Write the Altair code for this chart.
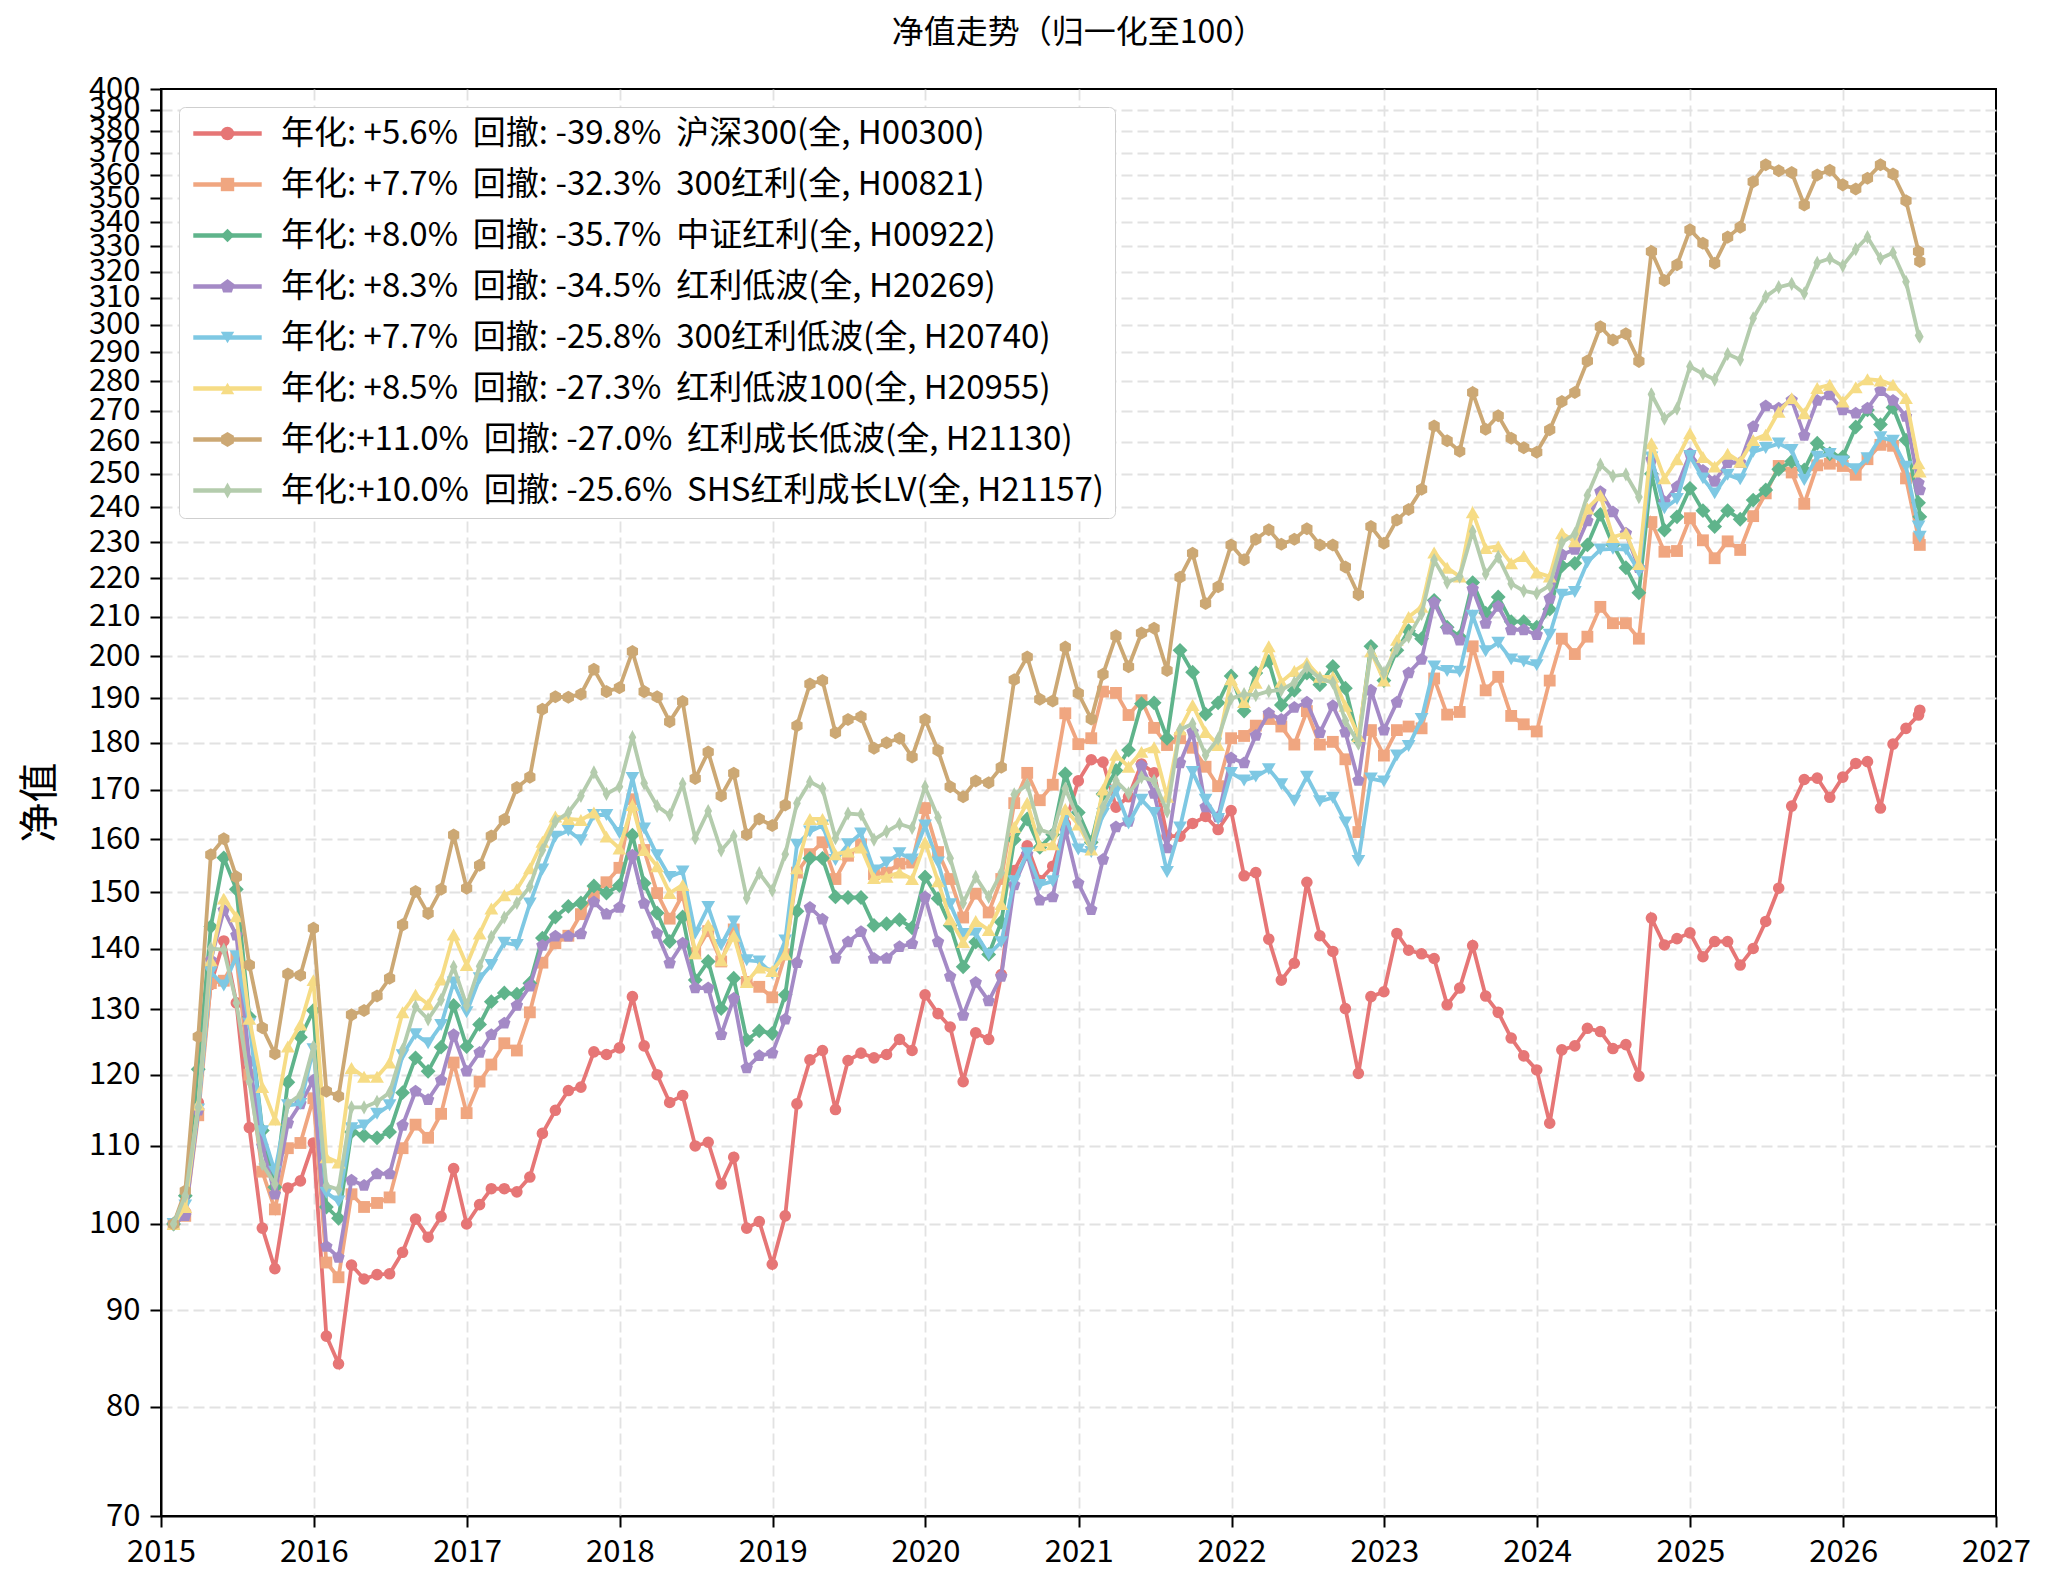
import altair as alt
import pandas as pd

FONT = "Noto Sans CJK SC"
NB = "\u00a0"

# ---------------- data ----------------
dates = [(pd.Timestamp("2015-01-01") + pd.offsets.MonthEnd(k + 1)).strftime("%Y-%m-%d") for k in range(138)]
dates.append("2026-07-03")

names = ["沪深300(全, H00300)", "300红利(全, H00821)", "中证红利(全, H00922)", "红利低波(全, H20269)",
         "300红利低波(全, H20740)", "红利低波100(全, H20955)", "红利成长低波(全, H21130)", "SHS红利成长LV(全, H21157)"]
annual = ["+5.6%", "+7.7%", "+8.0%", "+8.3%", "+7.7%", "+8.5%", "+11.0%", "+10.0%"]
drawdown = ["-39.8%", "-32.3%", "-35.7%", "-34.5%", "-25.8%", "-27.3%", "-27.0%", "-25.6%"]
colors = ["#e67676", "#f0a680", "#5fb48b", "#a48ac6", "#7ec8e3", "#f6dc85", "#cca874", "#b4ccad"]

h00300 = [100, 101.5, 116, 134, 141.3, 131, 112.5, 99.5, 94.7, 104.5, 105.4, 110.4,
          87.2, 84.3, 95.1, 93.5, 94, 94.1, 96.6, 100.6, 98.4, 100.9, 107, 100,
          102.4, 104.4, 104.4, 104, 105.9, 111.7, 114.9, 117.7, 118.2, 123.4, 123, 124,
          132, 124.3, 120, 116, 117, 110, 110.5, 105, 108.5, 99.5, 100.3, 95.2,
          101, 115.8, 122.2, 123.6, 115, 122.1, 123.2, 122.5, 123, 125.3, 123.6, 132.3,
          129.3, 127.2, 119, 126.3, 125.3, 135.6, 154, 158.7, 152.1, 154.8, 163, 171.8,
          176.3, 175.8, 166.4, 168.5, 175.4, 173.5, 160.6, 160.6, 163.1, 164.5, 161.9, 165.7,
          153, 153.6, 141.6, 134.7, 137.5, 151.8, 142.2, 139.5, 130.1, 120.2, 132, 132.8,
          142.6, 139.7, 139.1, 138.3, 130.7, 133.4, 140.5, 132.1, 129.5, 125.5, 122.8, 120.7,
          113.1, 123.7, 124.3, 127, 126.5, 123.9, 124.5, 119.8, 145.3, 140.6, 141.7, 142.7,
          138.6, 141.2, 141.2, 137.2, 140, 144.7, 150.7, 166.6, 172.1, 172.4, 168.4, 172.6,
          175.5, 175.9, 166.2, 179.7, 183.2, 186.2, 187.3]
h00821 = [100, 101, 114.2, 134.2, 134.6, 138.5, 120, 106.6, 101.8, 109.7, 110.4, 116.6,
          95.4, 93.7, 103.7, 102.1, 102.6, 103.3, 109.7, 112.9, 111.1, 114.4, 121.8, 114.5,
          119, 121.5, 124.7, 123.6, 129.5, 137.6, 140.9, 142.2, 146, 149.7, 151.8, 154.5,
          168, 157.9, 149.8, 145.2, 149.5, 139.2, 143, 137.8, 143.3, 134.4, 133.6, 131.9,
          139, 153.6, 157.1, 159.4, 152.4, 156.8, 159, 153.3, 153.6, 155.3, 155.5, 166.2,
          157.5, 152.4, 145.4, 149.7, 146.3, 152.4, 167.2, 173.5, 167.8, 171, 186.6, 179.7,
          181, 191.6, 191.3, 186.2, 189.6, 183.3, 179.5, 181, 178.9, 174.8, 170.7, 181,
          181.5, 183.8, 185.3, 183.6, 179.6, 187.1, 179.6, 180.2, 176.4, 161.4, 182.8, 177.2,
          182.8, 183.6, 183.2, 194.7, 186.3, 186.9, 202.5, 191.9, 195.1, 186, 184.1, 182.5,
          194.2, 204.4, 200.6, 204.9, 212.5, 208.3, 208.3, 204.4, 235.7, 227.3, 227.5, 236.8,
          230.5, 225.5, 230.2, 227.8, 237.4, 244.1, 252.4, 250.4, 241, 252.6, 253.1, 252.4,
          249.7, 254.5, 259, 258.7, 248.6, 231.1, 229.2]
h00922 = [100, 103.5, 120.8, 143.8, 156.4, 150.5, 128.8, 112.1, 104.6, 118.9, 125.6, 129.8,
          102.1, 100.7, 111.9, 111.4, 111.1, 111.9, 117.4, 122.5, 120.5, 124.1, 130.6, 124.2,
          127.6, 131.2, 132.6, 132.4, 134.2, 141.8, 145.5, 147.4, 148, 151.1, 149.8, 151.2,
          160.8, 151.6, 146.2, 141.2, 145.5, 134.7, 137.8, 130.1, 135, 125.2, 126.6, 126.2,
          132.3, 146.5, 156.3, 156.3, 149.1, 149, 149, 144, 144.3, 145, 143.6, 152.8,
          148.8, 144, 136.9, 141.1, 139, 144.6, 159.9, 164, 158.4, 160.9, 173.3, 165.3,
          159.4, 169.1, 174, 178.4, 188.8, 189, 181, 201.5, 196.2, 186.4, 189, 195.3,
          187.1, 196, 198.8, 188.5, 191.9, 196, 193.2, 197.6, 192.4, 180.6, 202.5, 194.2,
          201.5, 206.4, 204.4, 214.2, 207.3, 204.9, 218.9, 210.9, 215.1, 208.7, 208.7, 207.3,
          211.9, 223.4, 224.1, 229.2, 237.9, 229.2, 222.9, 216.2, 250, 233.4, 237.2, 245.6,
          239, 234.4, 239, 236.5, 242.1, 245.1, 251.4, 253.8, 251.2, 259.5, 256.2, 255.2,
          264.7, 270.3, 265.5, 271.1, 260.5, 241.3, 237.2]
h20269 = [100, 101, 114.9, 138, 146.7, 142.3, 122, 110, 103.7, 113.1, 115.8, 119.2,
          97.3, 96, 105.5, 104.8, 106.3, 106.3, 112.8, 117.6, 116.4, 119.2, 126, 120.5,
          123.3, 126, 127.8, 130.6, 133.7, 140.5, 142.1, 142.1, 142.5, 148.2, 146, 147.2,
          156.9, 147.9, 142.6, 137.5, 140.9, 133.4, 133.4, 126, 131.7, 121, 122.8, 123.2,
          128.4, 137.6, 147.2, 145.1, 138.3, 141.1, 142.9, 138.3, 138.3, 140.3, 140.8, 149.1,
          141.1, 135.3, 129, 134.3, 131.3, 135.3, 151.3, 157.1, 148.5, 149.1, 161.9, 151.6,
          146.8, 156.1, 162.4, 163.5, 175, 169.2, 158.3, 175.6, 182.4, 166.4, 164.4, 176.7,
          175.6, 181.6, 186.6, 185.2, 187.9, 189.1, 182.2, 188.3, 182.3, 171.9, 191.9, 182.8,
          189.1, 196, 199.3, 213.6, 206.8, 204, 217.2, 208.2, 212.6, 206.6, 206.6, 205.4,
          214.7, 226.5, 227.9, 236, 244.6, 238.6, 232.5, 222.9, 254.3, 241.6, 246.1, 256.2,
          251, 247.7, 253.4, 253.4, 264.8, 271.6, 270.8, 273.6, 262, 273.4, 275.3, 270.3,
          269.2, 270.8, 276.7, 273.4, 268.1, 247.2, 245.1]
h20740 = [100, 102.3, 115, 136, 133.8, 138.7, 127.7, 112, 106.6, 115.6, 115.8, 123.8,
          103.9, 102.8, 112.4, 112.8, 114.4, 115.6, 122.9, 126.1, 124.7, 127.5, 134.3, 129.5,
          135, 137.2, 141, 140.6, 147.9, 154.2, 160.5, 161.7, 159.8, 164.8, 164.8, 161.2,
          172.4, 162.1, 156.9, 152.8, 153.8, 142.6, 147.3, 140.6, 144.7, 138, 137.8, 135.8,
          141.4, 158.9, 161.5, 162.7, 156, 159, 161.1, 154, 155.5, 157.3, 156.1, 162.7,
          155.5, 147.8, 142.5, 142.6, 139, 141.1, 152, 157.3, 151.3, 152, 164.3, 158,
          157.5, 165, 169.7, 163.1, 167.9, 165.2, 153.7, 162.3, 173.7, 167.9, 164, 173.5,
          171.9, 172.7, 174.3, 171.1, 167.7, 172.7, 167.6, 168.3, 163.3, 155.8, 172.3, 171.7,
          177.2, 179.3, 185.3, 197.6, 196.5, 196.3, 210.2, 201.3, 203.4, 199.3, 198.8, 197.9,
          205.4, 215.7, 216.4, 224.4, 227.9, 228.1, 227.9, 221.9, 255, 239.7, 242.4, 255.5,
          248.6, 244.1, 249.7, 248.3, 256.8, 258, 259.4, 257.4, 248.1, 255.3, 256.1, 253.8,
          251.4, 254.8, 261.4, 260.3, 252.2, 234.4, 231.5]
h20955 = [100, 102.1, 115.7, 138, 148.8, 145.6, 128.5, 118.2, 113.6, 124.2, 127.6, 134.7,
          108.5, 107.8, 121, 119.7, 119.7, 121.8, 129.5, 132.3, 130.8, 134.8, 142.4, 137.2,
          142.6, 147, 149.4, 150.5, 154.4, 159.5, 164.5, 164, 163.8, 165.3, 160.5, 158.2,
          166.8, 157.9, 154.8, 149.8, 151.3, 139.2, 144.1, 138, 142.2, 134.4, 136.8, 136.2,
          139, 154.4, 164, 164, 157.1, 157.6, 158.4, 152.6, 152.8, 153.6, 152.4, 159.4,
          152, 145.1, 141.1, 144.8, 143.2, 147.8, 162.4, 167.3, 158.8, 159, 166, 162.9,
          158, 170, 177.4, 174.8, 178, 179, 168.5, 183, 188.5, 182.4, 179.5, 194.5,
          189.2, 193.7, 202.5, 193.9, 196.5, 198.5, 195.1, 195.1, 188.3, 181.5, 201.3, 194.2,
          204.1, 209.9, 212.5, 227.1, 222.9, 220.5, 238.5, 228.3, 228.8, 224.1, 226.1, 221.6,
          220.5, 232.5, 230.2, 239.6, 243.5, 231.4, 232.5, 223.9, 259.5, 248.6, 254.5, 262.7,
          255.2, 252.2, 256.2, 253.7, 260.5, 262.2, 269.7, 274.2, 269.2, 277.6, 278.7, 273.1,
          277.9, 280.6, 280.2, 278.7, 274.2, 253.2, 250.7]
h21130 = [100, 104.1, 125.7, 157, 160.1, 152.8, 137.2, 127.1, 123.1, 135.7, 135.5, 143.5,
          117.6, 116.9, 129.1, 129.8, 132.1, 135, 144.1, 150.1, 146.1, 150.5, 160.8, 150.7,
          155, 160.6, 163.9, 170.4, 172.6, 187.5, 190.4, 190.3, 191, 196.9, 191.6, 192.5,
          201.2, 191.6, 190.4, 184.7, 189.3, 172.3, 178, 168.7, 173.4, 160.9, 164, 162.7,
          166.8, 183.8, 193.4, 194.2, 182.2, 185.2, 185.8, 178.8, 180, 181, 176.9, 185.2,
          178.3, 170.6, 168.5, 171.8, 171.4, 174.7, 194.4, 199.9, 189.8, 189.4, 202.3, 191.2,
          185.3, 195.7, 205.1, 197.5, 205.8, 207, 196.6, 220.3, 226.9, 213.4, 217.8, 229.2,
          225.1, 230.8, 233.5, 229.4, 230.8, 233.8, 229.2, 229.2, 223.1, 215.7, 234.4, 229.7,
          236.3, 239.3, 245.3, 265, 260.3, 257, 276.1, 264, 268.4, 261.1, 258.1, 256.7,
          263.8, 273.1, 276.1, 286.9, 299.2, 294.4, 296.6, 286.8, 328, 316.6, 322.7, 336.8,
          331.3, 323.3, 333.8, 337.9, 357.2, 364.6, 362, 361.2, 347.2, 360.1, 362.2, 355.8,
          354, 358.7, 364.6, 360.6, 349, 328, 324]
h21157 = [100, 103.5, 115.3, 140, 139.8, 131, 119, 107.6, 105, 115.8, 117.1, 124.2,
          104.8, 104.3, 115.3, 115.3, 116.1, 117.4, 123.7, 130.4, 128.4, 131.5, 136.9, 130.6,
          137, 142, 145.4, 148, 151, 157.9, 163.5, 165.3, 168.7, 173.6, 169.1, 170.6,
          181.2, 171.3, 166.6, 164.8, 171.2, 160.2, 165.6, 157.8, 160.6, 148.9, 153.5, 150.3,
          157.1, 167.2, 171.6, 170.2, 160.2, 165.1, 164.9, 159.9, 161.5, 163, 162.2, 170.6,
          164.3, 156.3, 148, 152.8, 149.1, 153.6, 169, 171, 161.9, 161, 170.2, 164,
          158.3, 166.4, 171.8, 169.2, 172.6, 171.8, 165.5, 182.9, 184.2, 177.3, 180.9, 190,
          191, 190.8, 191.7, 192, 193.7, 197.4, 194.7, 193.7, 184.9, 179.8, 201.1, 196,
          202, 204.9, 210.7, 225, 218.9, 220.5, 233, 221.2, 225.9, 218.6, 216.7, 216,
          218.1, 229.8, 232.3, 243.5, 252.8, 249.3, 249.8, 243, 275.5, 267.4, 270.7, 285,
          282.5, 280.5, 289.4, 287.4, 302.3, 310.4, 314, 315.3, 311.6, 323.5, 325.2, 322.3,
          328.9, 333.8, 325.2, 327.5, 316.1, 296, 295.6]
series_values = [h00300, h00821, h00922, h20269, h20740, h20955, h21130, h21157]

y_ticks = list(range(70, 401, 10))
x_ticks = [f"{y}-01-01" for y in range(2015, 2028)]

# ---------------- build table ----------------
labels = []
for a, d, n in zip(annual, drawdown, names):
    a_txt = a if len(a) >= 6 else NB + a
    labels.append(f"年化:{a_txt}{NB}{NB}回撤:{NB}{d}{NB}{NB}{n}")
marker_keys = [f"m{i}" for i in range(len(labels))]

rows = []
for lab, key, vals in zip(labels, marker_keys, series_values):
    for dt, v in zip(dates, vals):
        rows.append({"date": dt, "value": v, "series": lab, "series_m": key})
df = pd.DataFrame(rows)

# marker shapes
pent = "M0,-1.1L1.05,-0.34L0.65,0.89L-0.65,0.89L-1.05,-0.34Z"
hexa = "M0,-1.1L0.95,-0.55L0.95,0.55L0,1.1L-0.95,0.55L-0.95,-0.55Z"
thin = "M0,-1.2L0.65,0L0,1.2L-0.65,0Z"
markers = ["circle", "square", "diamond", pent, "triangle-down", "triangle-up", hexa, thin]
marker_sizes = [135, 140, 220, 140, 190, 190, 140, 140]

common_leg = dict(title=None, orient="none", legendX=18, legendY=18, padding=10,
                  labelFont=FONT, labelFontSize=33, labelLimit=3000, labelColor="black",
                  symbolOffset=22, labelOffset=37, rowPadding=17, symbolSize=180)

legend_lines = alt.Legend(symbolType="M-5.1,0H5.1", symbolStrokeWidth=4.5,
                          fillColor="white", strokeColor="#cfcfcf", cornerRadius=6,
                          zindex=1, **common_leg)
legend_marks = alt.Legend(labelExpr="'\u00a0'", symbolStrokeWidth=0, zindex=2, **common_leg)

color = alt.Color("series:N", scale=alt.Scale(domain=labels, range=colors), legend=legend_lines)
fill = alt.Fill("series_m:N", scale=alt.Scale(domain=marker_keys, range=colors), legend=legend_marks)
shape = alt.Shape("series_m:N", scale=alt.Scale(domain=marker_keys, range=markers), legend=legend_marks)

GRID = "#e2e2e2"
axis_kw = dict(gridDash=[11, 5], gridWidth=1.8, domainColor="black",
               domainWidth=2, tickColor="black", tickWidth=2, tickSize=11,
               labelColor="black", labelFont=FONT, labelFontSize=31, labelFlush=False)
x = alt.X("date:T", title=None,
          scale=alt.Scale(domain=["2015-01-01", "2027-01-01"], nice=False),
          axis=alt.Axis(values=x_ticks, format="%Y", labelPadding=10,
                        gridColor={"condition": {"test": "datum.value <= datetime(2015,0,2) || datum.value >= datetime(2026,11,1)",
                                                 "value": "transparent"}, "value": GRID},
                        **axis_kw))
y = alt.Y("value:Q", title="净值",
          scale=alt.Scale(type="log", domain=[70, 400], nice=False),
          axis=alt.Axis(values=y_ticks, labelOverlap=False, labelPadding=10,
                        gridColor={"condition": {"test": "datum.value <= 70 || datum.value >= 400",
                                                 "value": "transparent"}, "value": GRID},
                        titleFont=FONT, titleFontSize=40, titleFontWeight="normal",
                        titleX=-121, titleY=713, titleAngle=270, titleBaseline="middle",
                        titleAlign="center", titleColor="black", **axis_kw))

base = alt.Chart(df)
layers = []
for lab, sz in zip(labels, marker_sizes):
    sub = base.transform_filter(alt.datum.series == lab)
    layers.append(sub.mark_line(strokeWidth=3.8, opacity=1).encode(x=x, y=y, color=color))
    layers.append(sub.mark_point(filled=True, size=sz, opacity=1, strokeWidth=0).encode(
        x=x, y=y, fill=fill, shape=shape))

chart = alt.layer(*layers).properties(
    width=1835, height=1427,
    background="white",
    autosize=alt.AutoSizeParams(type="none"),
    padding={"left": 153, "top": 81, "right": 46, "bottom": 62},
    title=alt.TitleParams("净值走势（归一化至100）", font=FONT, fontSize=32, fontWeight="normal",
                          anchor="middle", offset=23, color="black"),
).configure_view(stroke="black", strokeWidth=2)

chart.save("out.html", embed_options={"renderer": "svg", "actions": False})
